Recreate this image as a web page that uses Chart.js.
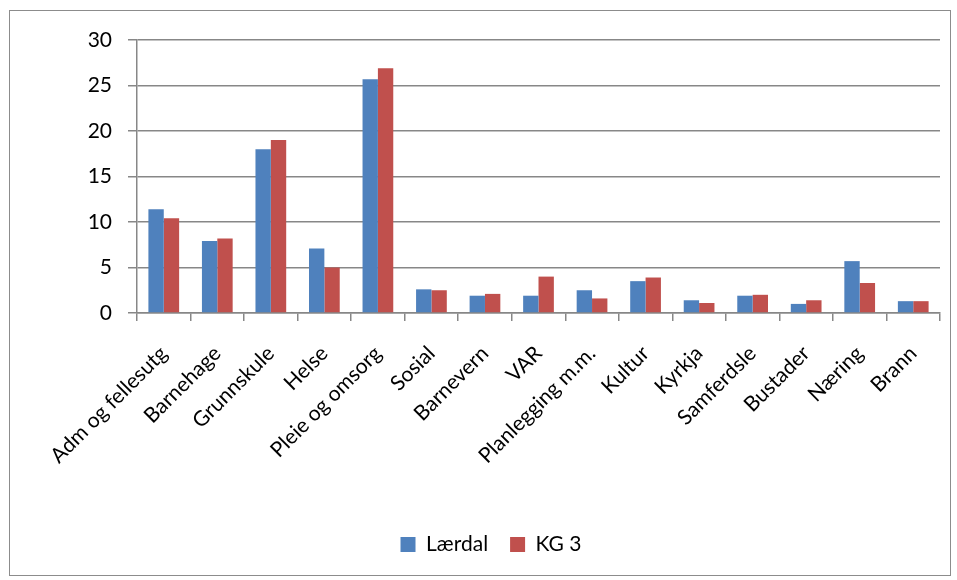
<!DOCTYPE html>
<html lang="no">
<head>
  <meta charset="UTF-8" />
  <title>Lærdal vs KG 3</title>
  <script src="https://cdn.jsdelivr.net/npm/chart.js"></script>
  <style>
    * { margin: 0; padding: 0; box-sizing: border-box; }
    body { background: #fff; width: 957px; height: 580px; position: relative; }
    .ramme {
      position: absolute;
      left: 9px; top: 10px;
      width: 942px; height: 566px;
      border: 1px solid #8c8c8c;
    }
  </style>
</head>
<body>
  <div class="ramme">
    <canvas id="graf" width="940" height="564"></canvas>
  </div>

  <script>
    // Kategoriar og verdiar (lest av figuren)
    const kategoriar = ['Adm og fellesutg', 'Barnehage', 'Grunnskule', 'Helse', 'Pleie og omsorg',
      'Sosial', 'Barnevern', 'VAR', 'Planlegging m.m.', 'Kultur', 'Kyrkja', 'Samferdsle',
      'Bustader', 'Næring', 'Brann'];
    const laerdal = [11.4, 7.9, 18.0, 7.1, 25.7, 2.6, 1.9, 1.9, 2.5, 3.5, 1.4, 1.9, 1.0, 5.7, 1.3];
    const kg3     = [10.4, 8.2, 19.0, 5.0, 26.9, 2.5, 2.1, 4.0, 1.6, 3.9, 1.1, 2.0, 1.4, 3.3, 1.3];
    const yTicks  = [0, 5, 10, 15, 20, 25, 30];

    const grid = '#878787';
    const fam = 'Lato, "Open Sans", sans-serif';

    new Chart(document.getElementById('graf'), {
      type: 'bar',
      data: {
        labels: kategoriar,
        datasets: [
          { label: 'Lærdal', data: laerdal, backgroundColor: '#4F81BD', categoryPercentage: 0.574, barPercentage: 1 },
          { label: 'KG 3', data: kg3, backgroundColor: '#C0504D', categoryPercentage: 0.574, barPercentage: 1 }
        ]
      },
      options: {
        responsive: false,
        animation: false,
        layout: { padding: { left: 32, right: 10, top: 29, bottom: 10 } },
        plugins: {
          tooltip: { enabled: false },
          legend: {
            position: 'bottom',
            labels: {
              color: '#000', font: { family: fam, size: 21 }, boxWidth: 15, boxHeight: 15,
              padding: 22
            }
          }
        },
        scales: {
          x: {
            offset: true,
            afterFit: (s) => { s.height = 199; s.paddingRight = 0; },
            grid: { display: true, drawOnChartArea: false, offset: true, tickLength: 8, color: grid, lineWidth: 1.5 },
            border: { color: grid, width: 1.5 },
            ticks: { color: '#000', font: { family: fam, size: 21 }, minRotation: 45, maxRotation: 45, padding: 20 }
          },
          y: {
            min: 0, max: 30,
            afterFit: (s) => { s.width = 95; },
            afterBuildTicks: (ax) => { ax.ticks = yTicks.map(v => ({ value: v })); },
            grid: { color: grid, lineWidth: 1.5, tickLength: 9 },
            border: { color: grid, width: 1.5 },
            ticks: { color: '#000', font: { family: fam, size: 21 }, padding: 16 }
          }
        }
      }
    });
  </script>
</body>
</html>
